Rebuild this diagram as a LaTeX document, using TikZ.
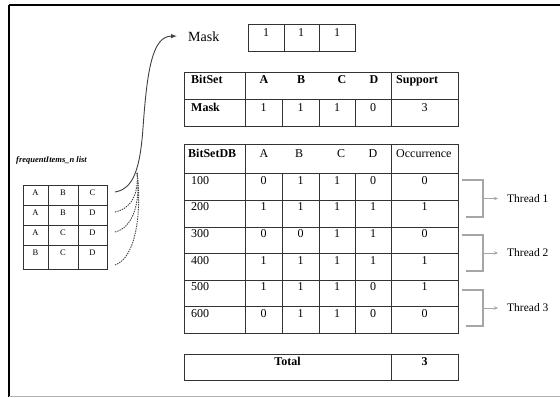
\documentclass[tikz,border=0pt]{standalone}
\usepackage{fontspec}
\setmainfont{Liberation Serif}
\usetikzlibrary{arrows.meta}
\begin{document}
\begin{tikzpicture}[x=1pt,y=-1pt,
  grid/.style={draw=black!80, line width=1pt},
  cell/.style={inner sep=0pt, anchor=base, font=\fontsize{12}{14}\selectfont},
  bcell/.style={cell, font=\fontsize{12}{14}\selectfont\bfseries},
  lcell/.style={cell, anchor=base west},
  blcell/.style={bcell, anchor=base west},
  small/.style={inner sep=0pt, anchor=base, font=\fontsize{8.5}{10}\selectfont},
  bracket/.style={draw=black!35, line width=1.2pt},
  threadlbl/.style={inner sep=0pt, anchor=west, font=\fontsize{11.5}{13}\selectfont},
  link/.style={draw=black!75, line width=0.9pt},
  dotlink/.style={link, dash pattern=on 1.4pt off 1pt}]
\useasboundingbox (0,0) rectangle (560,397);

% page frame
\draw[black, line width=1.6pt] (9,5) -- (560,5);
\draw[black, line width=1.6pt] (9,5) -- (9,397);
\draw[black!30, line width=1pt] (9,396.5) -- (560,396.5);

% Mask vector
\node[inner sep=0pt, anchor=base west, font=\fontsize{14}{16}\selectfont] (masklbl) at (188,41) {Mask};
\draw[grid] (248,24) rectangle (355,51);
\draw[grid] (284,24) -- (284,51) (319,24) -- (319,51);
\foreach \x/\n in {266/m1,301/m2,337/m3}
  \node[cell] (\n) at (\x,36) {1};

% BitSet table
\draw[grid] (184,72) rectangle (458,126);
\draw[grid] (184,99) -- (458,99);
\draw[grid] (245,72) -- (245,126) (391,72) -- (391,126);
\draw[grid] (282,99) -- (282,126) (319,99) -- (319,126) (355,99) -- (355,126);
\node[blcell] (bs) at (191,83) {BitSet};
\foreach \x/\t in {264/A,301/B,342/C,374/D}
  \node[bcell] (bs\t) at (\x,83) {\t};
\node[blcell] (sup) at (396,83) {Support};
\node[blcell] (mk) at (191,111) {Mask};
\foreach \x/\v/\n in {263.5/1/a,300.5/1/b,337/1/c,373/0/d}
  \node[cell] (mk\n) at (\x,111) {\v};
\node[cell] (mksup) at (424.5,111) {3};

% BitSetDB table
\draw[grid] (184,144) rectangle (458,333);
\foreach \y in {173,200,227,253,280,306}
  \draw[grid] (184,\y) -- (458,\y);
\draw[grid] (245,144) -- (245,333) (391,144) -- (391,333);
\draw[grid] (282,173) -- (282,333) (319,173) -- (319,333) (355,173) -- (355,333);
\node[blcell] (db) at (188,157) {BitSetDB};
\foreach \x/\t in {264/A,299/B,341/C,373/D}
  \node[cell] (db\t) at (\x,157) {\t};
\node[lcell] (occ) at (396,157) {Occurrence};
\foreach \i/\id/\a/\b/\c/\d/\o in {0/100/0/1/1/0/0,1/200/1/1/1/1/1,2/300/0/0/1/1/0,
                                    3/400/1/1/1/1/1,4/500/1/1/1/0/1,5/600/0/1/1/0/0}{
  \pgfmathsetmacro{\yb}{184+26.67*\i}
  \node[lcell] (t\id) at (191,\yb) {\id};
  \node[cell] (t\id a) at (263.5,\yb) {\a};
  \node[cell] (t\id b) at (300.5,\yb) {\b};
  \node[cell] (t\id c) at (337,\yb) {\c};
  \node[cell] (t\id d) at (373,\yb) {\d};
  \node[cell] (t\id o) at (424.5,\yb) {\o};
}

% Total row
\draw[grid] (184,354) rectangle (458,380);
\draw[grid] (391,354) -- (391,380);
\node[bcell] (tot) at (287.5,365) {Total};
\node[bcell] (totv) at (424.5,365) {3};

% thread groups
\foreach \k/\top/\bot in {1/180/217,2/235/271,3/290/326}{
  \pgfmathsetmacro{\mid}{(\top+\bot)/2}
  \node[threadlbl] (th\k) at (507,\mid) {Thread \k};
  \coordinate (br\k) at (483,\mid);
  \draw[bracket] (462,\top) -- (483,\top) -- (483,\bot) -- (466,\bot);
  \draw[bracket, line width=0.9pt, -{Stealth[length=4pt,width=3.5pt]}] (br\k) -- ([xshift=-9pt]th\k.west);
}

% frequentItems_n list
\node[inner sep=0pt, anchor=base west, font=\fontsize{8.5}{10}\selectfont\bfseries\itshape] (fil) at (16,162) {frequentItems\_n list};
\draw[grid, line width=0.8pt] (23,185) rectangle (107,269);
\foreach \y in {205,225,245} \draw[grid, line width=0.8pt] (23,\y) -- (107,\y);
\draw[grid, line width=0.8pt] (48,185) -- (48,269) (78,185) -- (78,269);
\foreach \r/\yb/\p/\q/\s in {1/195/A/B/C,2/215/A/B/D,3/235/A/C/D,4/255/B/C/D}{
  \node[small] (f\r a) at (35.5,\yb) {\p};
  \node[small] (f\r b) at (63,\yb) {\q};
  \node[small] (f\r c) at (92.5,\yb) {\s};
  \coordinate (fo\r) at (115,\yb-3);
}
\coordinate (fo4) at (115,265);
\coordinate (join) at (137,172);

% links from the itemset rows to the mask
\draw[link, -{Latex[length=6pt,width=4.5pt]}, shorten >=11pt]
  (fo1) .. controls (133,189) and (140,170) .. (143,128)
        .. controls (147,72) and (152,36) .. (masklbl.west);
\draw[dotlink] (fo2) .. controls (130,209) and (139,196) .. (join);
\draw[dotlink] (fo3) .. controls (132,228) and (141,205) .. (join);
\draw[dotlink] (fo4) .. controls (136,258) and (142,212) .. (join);
\end{tikzpicture}
\end{document}
